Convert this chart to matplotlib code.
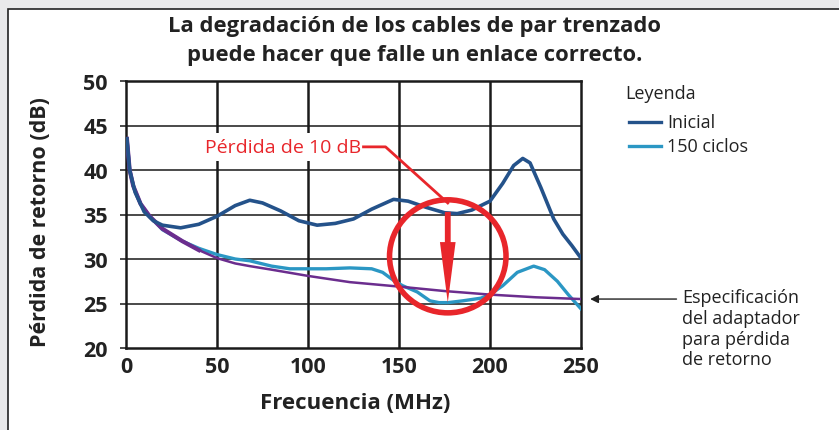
import matplotlib
matplotlib.use('Agg')
import matplotlib.pyplot as plt
from matplotlib.patches import Ellipse, Rectangle

plt.rcParams['font.family'] = ['Open Sans', 'DejaVu Sans']

# data
inicial_x = [0.5, 2, 5, 10, 15, 20, 30, 40, 50, 60, 68, 75, 85, 95, 105, 115, 125,
             135, 147, 155, 165, 175, 182, 190, 200, 207, 213, 218, 222, 228, 235,
             240, 245, 250]
inicial_y = [43.5, 40, 37.5, 35.3, 34.3, 33.8, 33.5, 33.9, 34.8, 36.0, 36.6, 36.3,
             35.4, 34.3, 33.8, 34.0, 34.5, 35.6, 36.7, 36.5, 35.8, 35.2, 35.1, 35.5,
             36.5, 38.5, 40.5, 41.3, 40.8, 38.0, 34.5, 32.8, 31.5, 30.1]

ciclos_x = [0.5, 2, 4, 8, 13, 20, 31, 40, 50, 60, 68, 80, 90, 100, 110, 123, 135,
            141, 147, 152, 160, 167, 172, 177, 185, 195, 200, 207, 215, 224, 230,
            237, 243, 250]
ciclos_y = [43.5, 40, 38.2, 36.2, 34.8, 33.3, 32.0, 31.2, 30.5, 30.0, 29.8, 29.2,
            28.9, 28.9, 28.9, 29.0, 28.9, 28.5, 27.6, 27.0, 26.3, 25.3, 25.1, 25.1,
            25.3, 25.6, 26.0, 27.0, 28.5, 29.2, 28.8, 27.5, 26.0, 24.4]

spec_x = [0.5, 2, 4, 8, 13, 20, 31, 40, 50, 60, 68, 80, 100, 123, 150, 175, 200,
          225, 250]
spec_y = [43.5, 40, 38.2, 36.2, 34.8, 33.4, 32.0, 31.0, 30.1, 29.5, 29.2, 28.8,
          28.1, 27.4, 26.9, 26.4, 26.0, 25.7, 25.5]

x_ticks = [0, 50, 100, 150, 200, 250]
y_ticks = [20, 25, 30, 35, 40, 45, 50]

c_inicial = '#24528a'
c_ciclos = '#2b97c4'
c_spec = '#6b2d8e'
c_red = '#e8262b'
c_text = '#222222'

fig = plt.figure(figsize=(8.39, 4.31), dpi=100)
fig.patch.set_facecolor('#e9e9ea')
fig.patches.append(Rectangle((8 / 839, -0.01), 1.0, 1 - 10 / 431 + 0.01,
                             transform=fig.transFigure, facecolor='white',
                             edgecolor=c_text, linewidth=1.2, zorder=-10))

ax = fig.add_axes([126 / 839, 1 - 349 / 431, 455 / 839, 267 / 431])
ax.set_facecolor('white')
ax.set_xlim(0, 250)
ax.set_ylim(20, 50)

# grid
for y in [25, 30, 35, 40, 45]:
    ax.axhline(y, color='#4a4a4a', lw=1.4, zorder=1)
for x in [50, 100, 150, 200]:
    ax.axvline(x, color='#1a1a1a', lw=1.8, zorder=1)
for s in ax.spines.values():
    s.set_linewidth(1.8)
    s.set_color('#1a1a1a')

ax.plot(ciclos_x, ciclos_y, color=c_ciclos, lw=2.4, zorder=3,
        solid_joinstyle='round')
ax.plot(spec_x, spec_y, color=c_spec, lw=1.8, zorder=4, solid_joinstyle='round')
ax.plot(spec_x[:8], spec_y[:8], color=c_spec, lw=3, zorder=4,
        solid_joinstyle='round')
ax.plot(inicial_x, inicial_y, color=c_inicial, lw=2.6, zorder=5,
        solid_joinstyle='round')

ax.set_xticks(x_ticks)
ax.set_yticks(y_ticks)
ax.tick_params(axis='both', labelsize=15.5, length=4, width=1.4, color='#4a4a4a')
ax.tick_params(axis='y', pad=9)
ax.tick_params(axis='x', length=0, pad=6)
for lab in ax.get_xticklabels() + ax.get_yticklabels():
    lab.set_fontweight('bold')
    lab.set_color(c_text)

ax.set_xlabel('Frecuencia (MHz)', fontsize=16, fontweight='bold', color=c_text)
ax.xaxis.set_label_coords((355 - 126) / 455, -(393 - 349) / 267)
ax.set_ylabel('Pérdida de retorno (dB)', fontsize=15.5, fontweight='bold',
              color=c_text)
ax.yaxis.set_label_coords(-(126 - 51) / 455, (349 - 222) / 267)

fig.text(415 / 839, 1 - 41 / 431,
         'La degradación de los cables de par trenzado\npuede hacer que falle un enlace correcto.',
         ha='center', va='center', fontsize=15.8, fontweight='bold', color=c_text,
         linespacing=1.45)

# red annotation
ax.text(86.5, 42.6, 'Pérdida de 10 dB', color=c_red, fontsize=14, ha='center',
        va='center', zorder=6,
        bbox=dict(boxstyle='square,pad=0.25', fc='white', ec='none'))
ax.plot([130.5, 142.6, 176.8], [42.6, 42.6, 36.3], color=c_red, lw=2, zorder=6)
ax.arrow(176.8, 35.3, 0, -10.2, width=3.2, head_width=8.6, head_length=6.8,
         length_includes_head=True, fc=c_red, ec='none', zorder=7)
ax.add_patch(Ellipse((176.8, 30.3), 64, 12.7, fill=False, ec=c_red, lw=4, zorder=7))

# legend
fig.text(625 / 839, 1 - 94 / 431, 'Leyenda', fontsize=13, color=c_text,
         ha='left', va='center')
fig.lines.append(plt.Line2D([629 / 839, 661 / 839], [1 - 123 / 431] * 2,
                            color=c_inicial, lw=2.4, transform=fig.transFigure))
fig.lines.append(plt.Line2D([629 / 839, 661 / 839], [1 - 147 / 431] * 2,
                            color=c_ciclos, lw=2.4, transform=fig.transFigure))
fig.text(667 / 839, 1 - 123 / 431, 'Inicial', fontsize=13, color=c_text,
         ha='left', va='center')
fig.text(667 / 839, 1 - 147 / 431, '150 ciclos', fontsize=13, color=c_text,
         ha='left', va='center')

# spec annotation
ax.annotate('', xy=(253.5, 25.5), xytext=(304, 25.5), xycoords='data',
            arrowprops=dict(arrowstyle='-|>', color=c_text, lw=1,
                            mutation_scale=12),
            annotation_clip=False)
fig.text(682 / 839, 1 - 289 / 431,
         'Especificación\ndel adaptador\npara pérdida\nde retorno',
         fontsize=13, color=c_text, ha='left', va='top', linespacing=1.2)

fig.savefig('out.png', dpi=100, facecolor=fig.get_facecolor())
